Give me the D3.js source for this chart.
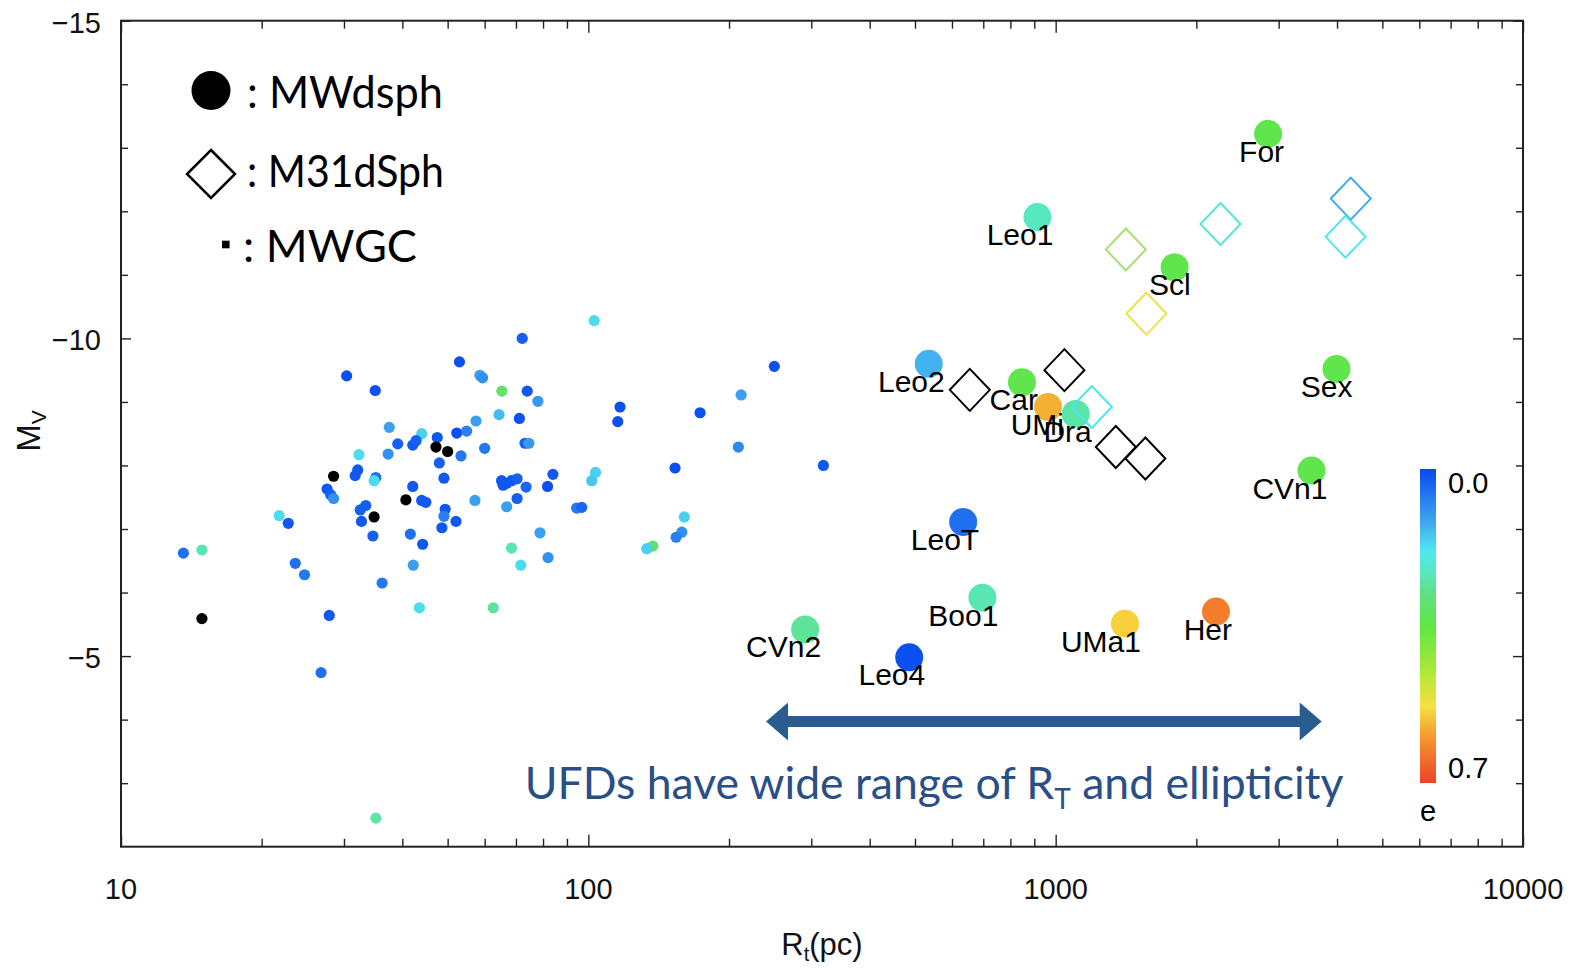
<!DOCTYPE html>
<html><head><meta charset="utf-8">
<script src="https://cdn.jsdelivr.net/npm/d3@7"></script>
<style>body{margin:0;background:#fff}svg{display:block}</style>
</head><body>
<svg id="c" width="1576" height="968"></svg>
<script>
// ---------------- DATA ----------------
// Milky Way dSphs (big filled circles, labelled)
const dsphNames = ["For","Leo1","Scl","Leo2","Car","UMi","Dra","Sex","CVn1","LeoT","Boo1","CVn2","Leo4","UMa1","Her"];
const dsphRt    = [2848, 914, 1797, 535, 847, 963, 1104, 3990, 3527, 634, 697, 291, 486, 1407, 2203];
const dsphMv    = [-13.22,-11.91,-11.12,-9.60,-9.31,-8.92,-8.81,-9.52,-7.92,-7.11,-5.92,-5.42,-4.98,-5.51,-5.70];
const dsphE     = [0.34, 0.23, 0.34, 0.13, 0.34, 0.575, 0.25, 0.34, 0.34, 0.05, 0.24, 0.26, 0.01, 0.545, 0.63];

// M31 dSphs (open diamonds); null ellipticity = black
const m31Rt = [1413, 2253, 4280, 4171, 1564, 1195, 1044, 655, 1345, 1556];
const m31Mv = [-11.40,-11.80,-12.20,-11.60,-10.39,-8.92,-9.50,-9.19,-8.29,-8.11];
const m31E  = [0.44, 0.21, 0.12, 0.19, 0.52, 0.18, null, null, null, null];

// Milky Way globular clusters (small dots); null ellipticity = black
const gcRt = [53.0,30.4,35.0,57.5,37.5,44.0,47.5,52.3,54.9,39.1,42.1,42.8,37.3,32.3,53.4,48.0,32.1,31.7,35.1,34.8,
              49.1,42.1,27.6,28.1,28.5,44.0,44.9,57.2,33.4,32.5,49.4,49.1,21.8,22.8,32.7,48.6,52.1,34.6,41.6,44.2,
              13.6,14.9,23.6,24.7,42.2,36.2,43.5,27.9,26.8,35.1,102.9,72.2,58.6,59.4,65.3,74.0,78.0,64.4,71.2,60.0,
              73.2,74.6,116.9,115.6,173.4,250.0,212.3,209.4,318.4,153.3,103.6,101.7,84.0,81.8,65.2,66.9,68.5,70.4,65.7,73.6,
              70.4,66.9,94.4,96.8,160.5,158.5,154.1,137.4,133.4,78.8,68.5,82.0,71.7,62.6,
              47.2,50.0,28.5,40.7,34.8,14.9];
const gcMv = [-9.63,-9.41,-9.18,-8.70,-8.60,-8.50,-8.44,-8.51,-8.54,-8.34,-8.32,-8.39,-8.18,-8.17,-8.15,-8.04,-7.93,-7.84,-7.81,-7.76,
              -7.80,-7.67,-7.63,-7.54,-7.48,-7.45,-7.42,-7.45,-7.37,-7.30,-7.31,-7.20,-7.21,-7.09,-7.12,-7.02,-7.12,-6.89,-6.92,-6.76,
              -6.62,-6.67,-6.46,-6.28,-6.43,-6.15,-5.76,-5.64,-4.74,-2.45,-10.28,-10.00,-9.42,-9.38,-9.17,-9.17,-9.01,-8.80,-8.74,-8.27,
              -8.35,-8.35,-8.92,-8.69,-8.83,-9.56,-9.11,-8.29,-8.00,-7.96,-7.89,-7.76,-7.86,-7.67,-7.76,-7.72,-7.76,-7.79,-7.69,-7.66,
              -7.48,-7.35,-7.33,-7.34,-7.19,-6.95,-6.87,-6.73,-6.69,-6.94,-6.70,-6.55,-6.43,-5.76,
              -8.29,-8.22,-7.83,-7.46,-7.19,-5.59];
const gcE  = [0.01,0.01,0.01,0.11,0.11,0.16,0.02,0.01,0.07,0.03,0.02,0.03,0.09,0.17,0.06,0.03,0.02,0.02,0.05,0.17,
              0.02,0.02,0.02,0.03,0.09,0.02,0.02,0.11,0.03,0.03,0.02,0.07,0.17,0.02,0.02,0.02,0.02,0.03,0.05,0.02,
              0.05,0.24,0.05,0.06,0.11,0.06,0.17,0.02,0.05,0.25,0.17,0.03,0.11,0.09,0.31,0.02,0.10,0.14,0.01,0.06,
              0.03,0.10,0.01,0.01,0.01,0.01,0.11,0.08,0.02,0.01,0.16,0.15,0.02,0.01,0.02,0.02,0.02,0.03,0.02,0.04,
              0.03,0.11,0.06,0.04,0.16,0.09,0.07,0.30,0.16,0.11,0.24,0.09,0.17,0.26,
              null,null,null,null,null,null];

// ticks / labels
const xMajor = [10, 100, 1000, 10000];
const xTickLabels = ["10", "100", "1000", "10000"];
const yMajor = [-15, -10, -5];
const yTickLabels = ["\u221215", "\u221210", "\u22125"];
const yMinor = [-14,-13,-12,-11,-9,-8,-7,-6,-4,-3];
const cbarLabels = ["0.0", "0.7"];
const legendLabels = [": MWdsph", ": M31dSph", ": MWGC"];

// ellipticity colour map
const eStops  = [0, 0.12, 0.183, 0.23, 0.28, 0.354, 0.455, 0.53, 0.59, 0.7];
const eColors = ["#0848f0","#40a8f0","#50e8f0","#58e8c0","#60e080","#60e840","#b0e838","#f8e040","#f4a030","#f04028"];

// annotation (UFD arrow)
const arrowRt = [240, 3709];
const arrowMv = -3.97;
const noteRt = 73.1, noteMv = -2.75;

// ---------------- CHART ----------------
const svg = d3.select("#c");
const X0 = 121, X1 = 1523, Y0 = 20.7, Y1 = 846.7;
const x = d3.scaleLog().domain([10, 10000]).range([X0, X1]);
const y = d3.scaleLinear().domain([-15, -2]).range([Y0, Y1]);
const color = d3.scaleLinear().domain(eStops).range(eColors).clamp(true);
const fillOf = e => e == null ? "#000" : color(e);

const tickFont = "'Liberation Sans', Arial, Helvetica, sans-serif";
const humanist = "Lato, 'Open Sans', sans-serif";

// minor x ticks
const xMinor = [];
for (let d = 10; d < 10000; d *= 10) for (let k = 2; k <= 9; k++) xMinor.push(d * k);

function styleAxis(g) {
  g.select(".domain").remove();
  g.selectAll(".tick line").attr("stroke", "#222").attr("stroke-width", 1.4);
  g.selectAll("text").remove();
}
svg.append("g").attr("transform", `translate(0,${Y1})`).call(d3.axisBottom(x).tickValues(xMinor).tickSize(-8)).call(styleAxis);
svg.append("g").attr("transform", `translate(0,${Y1})`).call(d3.axisBottom(x).tickValues(xMajor).tickSize(-12)).call(styleAxis);
svg.append("g").attr("transform", `translate(0,${Y0})`).call(d3.axisTop(x).tickValues(xMinor).tickSize(-8)).call(styleAxis);
svg.append("g").attr("transform", `translate(0,${Y0})`).call(d3.axisTop(x).tickValues(xMajor).tickSize(-12)).call(styleAxis);
svg.append("g").attr("transform", `translate(${X0},0)`).call(d3.axisLeft(y).tickValues(yMinor).tickSize(-7)).call(styleAxis);
svg.append("g").attr("transform", `translate(${X0},0)`).call(d3.axisLeft(y).tickValues(yMajor).tickSize(-10)).call(styleAxis);
svg.append("g").attr("transform", `translate(${X1},0)`).call(d3.axisRight(y).tickValues(yMinor).tickSize(-7)).call(styleAxis);
svg.append("g").attr("transform", `translate(${X1},0)`).call(d3.axisRight(y).tickValues(yMajor).tickSize(-10)).call(styleAxis);

svg.append("rect").attr("x", X0).attr("y", Y0).attr("width", X1 - X0).attr("height", Y1 - Y0)
  .attr("fill", "none").attr("stroke", "#222").attr("stroke-width", 2);

// tick labels
svg.append("g").selectAll("text").data(xMajor).join("text")
  .attr("x", d => x(d)).attr("y", 899).attr("text-anchor", "middle")
  .attr("font-family", tickFont).attr("font-size", 29).attr("fill", "#111")
  .text((d, i) => xTickLabels[i]);
svg.append("g").selectAll("text").data(yMajor).join("text")
  .attr("x", 101).attr("y", d => y(d) + 12).attr("text-anchor", "end")
  .attr("font-family", tickFont).attr("font-size", 29).attr("fill", "#111")
  .text((d, i) => yTickLabels[i]);

// axis titles
const xt = svg.append("text").attr("x", 822).attr("y", 955).attr("text-anchor", "middle")
  .attr("font-family", tickFont).attr("font-size", 31).attr("fill", "#111");
xt.append("tspan").text("R");
xt.append("tspan").attr("font-size", 20).attr("dy", 6).text("t");
xt.append("tspan").attr("dy", -6).text("(pc)");
const yt = svg.append("text").attr("transform", "translate(40,431) rotate(-90)").attr("text-anchor", "middle")
  .attr("font-family", tickFont).attr("font-size", 33).attr("fill", "#111");
yt.append("tspan").text("M");
yt.append("tspan").attr("font-size", 21).attr("dy", 6).text("V");

// globular clusters
const gc = gcRt.map((r, i) => ({r, m: gcMv[i], e: gcE[i]}));
const gcOrdered = gc.filter(d => d.e != null).concat(gc.filter(d => d.e == null));
svg.append("g").selectAll("circle").data(gcOrdered).join("circle")
  .attr("cx", d => x(d.r)).attr("cy", d => y(d.m)).attr("r", 5.6)
  .attr("fill", d => fillOf(d.e));

// MW dSphs: circle then label, in order
const dsph = dsphNames.map((n, i) => ({n, r: dsphRt[i], m: dsphMv[i], e: dsphE[i]}));
const dg = svg.append("g");
dsph.forEach(d => {
  dg.append("circle").attr("cx", x(d.r)).attr("cy", y(d.m)).attr("r", 14).attr("fill", fillOf(d.e));
  dg.append("text").attr("x", x(d.r) + 16).attr("y", y(d.m) + 28).attr("text-anchor", "end")
    .attr("font-family", tickFont).attr("font-size", 30).attr("fill", "#000").text(d.n);
});

// M31 dSphs: open diamonds
const m31 = m31Rt.map((r, i) => ({r, m: m31Mv[i], e: m31E[i]}));
const dia = (w, h) => `M0,${-h}L${w},0L0,${h}L${-w},0Z`;
svg.append("g").selectAll("path").data(m31).join("path")
  .attr("transform", d => `translate(${x(d.r)},${y(d.m)})`)
  .attr("d", dia(20, 21)).attr("fill", "none")
  .attr("stroke", d => d.e == null ? "#000" : d.e > 0.4 && d.e < 0.5 ? "#a8e070" : fillOf(d.e))
  .attr("stroke-width", 2);

// UFD arrow
const ax0 = x(arrowRt[0]), ax1 = x(arrowRt[1]), ay = y(arrowMv);
const hl = 22, hh = 19, st = 5.5;
svg.append("path").attr("fill", "#2a5d8f")
  .attr("d", `M${ax0},${ay}L${ax0+hl},${ay-hh}L${ax0+hl},${ay-st}L${ax1-hl},${ay-st}L${ax1-hl},${ay-hh}L${ax1},${ay}` +
             `L${ax1-hl},${ay+hh}L${ax1-hl},${ay+st}L${ax0+hl},${ay+st}L${ax0+hl},${ay+hh}Z`);
const note = svg.append("text").attr("x", x(noteRt)).attr("y", y(noteMv))
  .attr("font-family", humanist).attr("font-size", 44.5).attr("fill", "#2a4f86");
note.append("tspan").text("UFDs have wide range of R");
note.append("tspan").attr("font-size", 28).attr("dy", 10).text("T");
note.append("tspan").attr("dy", -10).text(" and ellipticity");

// colour bar
const defs = svg.append("defs");
const grad = defs.append("linearGradient").attr("id", "eg").attr("x1", 0).attr("y1", 0).attr("x2", 0).attr("y2", 1);
grad.selectAll("stop").data(eStops).join("stop")
  .attr("offset", d => d / 0.7).attr("stop-color", (d, i) => eColors[i]);
svg.append("rect").attr("x", 1420).attr("y", 469).attr("width", 16).attr("height", 314).attr("fill", "url(#eg)");
svg.append("text").attr("x", 1448).attr("y", 493).attr("font-family", tickFont).attr("font-size", 29).text(cbarLabels[0]);
svg.append("text").attr("x", 1448).attr("y", 778).attr("font-family", tickFont).attr("font-size", 29).text(cbarLabels[1]);
svg.append("text").attr("x", 1420).attr("y", 821).attr("font-family", tickFont).attr("font-size", 29).text("e");

// legend
svg.append("circle").attr("cx", 211).attr("cy", 90.5).attr("r", 19.5).attr("fill", "#000");
svg.append("path").attr("transform", "translate(211,174)").attr("d", dia(24, 24))
  .attr("fill", "none").attr("stroke", "#000").attr("stroke-width", 2.5);
svg.append("rect").attr("x", 222).attr("y", 240.7).attr("width", 7.6).attr("height", 7.6).attr("fill", "#000");
const legY = [108.3, 186.7, 261.7];
const legX = [247, 247, 243];
const legW = [196, 197, 174];
legendLabels.forEach((t, i) => {
  svg.append("text").attr("x", legX[i]).attr("y", legY[i]).attr("font-family", humanist)
    .attr("font-size", 45).attr("fill", "#000")
    .attr("textLength", legW[i]).attr("lengthAdjust", "spacingAndGlyphs").text(t);
});
</script>
</body></html>
